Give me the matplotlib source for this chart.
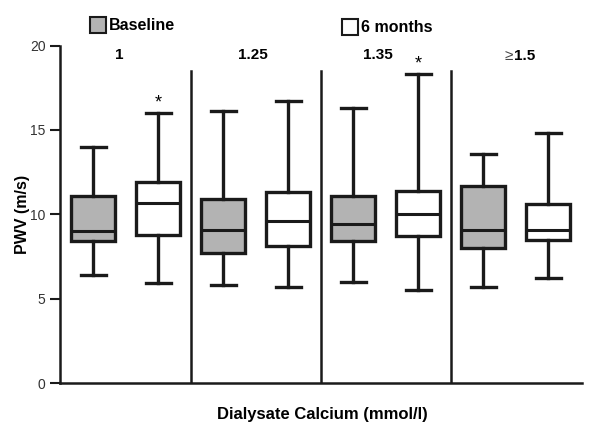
import matplotlib
matplotlib.use("Agg")
import matplotlib.pyplot as plt
from matplotlib.patches import Rectangle

plt.rcParams['font.family'] = ['Liberation Sans', 'DejaVu Sans']

# values (PWV, m/s)
groups = ["1", "1.25", "1.35", "1.5"]
group_prefix = ["", "", "", "\u2265"]
whislo = [6.4, 5.9, 5.8, 5.7, 6.0, 5.5, 5.7, 6.2]
q1 = [8.4, 8.8, 7.7, 8.1, 8.4, 8.7, 8.0, 8.5]
med = [9.0, 10.7, 9.1, 9.6, 9.4, 10.0, 9.1, 9.1]
q3 = [11.1, 11.9, 10.9, 11.3, 11.1, 11.4, 11.7, 10.6]
whishi = [14.0, 16.0, 16.1, 16.7, 16.3, 18.3, 13.6, 14.8]
signif = [False, True, False, False, False, True, False, False]

positions = list(range(1, 9))
fills = ['#b3b3b3', 'white'] * 4

fig = plt.figure(figsize=(6, 4.41), dpi=100)
ax = fig.add_axes([0.1, 0.1315, 0.87, 0.765])

stats = []
for i in range(8):
    stats.append({'whislo': whislo[i], 'q1': q1[i], 'med': med[i],
                  'q3': q3[i], 'whishi': whishi[i], 'fliers': []})

bp = ax.bxp(stats, positions=positions, widths=0.68, patch_artist=True,
            showfliers=False,
            boxprops=dict(linewidth=2.4, edgecolor='#1a1a1a'),
            medianprops=dict(linewidth=2.2, color='#1a1a1a'),
            whiskerprops=dict(linewidth=2.4, color='#1a1a1a'),
            capprops=dict(linewidth=2.4, color='#1a1a1a'))
for patch, c in zip(bp['boxes'], fills):
    patch.set_facecolor(c)
for cap in bp['caps']:
    x = cap.get_xdata()
    mid = (x[0] + x[1]) / 2
    cap.set_xdata([mid - 0.19, mid + 0.19])

# group separators
for sep in [2.5, 4.5, 6.5]:
    ax.plot([sep, sep], [0, 18.5], color='#1a1a1a', linewidth=1.8)

# asterisks
for p, s, hi in zip(positions, signif, whishi):
    if s:
        ax.text(p, hi + 0.1, "*", ha='center', va='bottom', fontsize=13)

# group labels
label_x = [1.4, 3.45, 5.38, 7.72]
for gx, g, pre in zip(label_x, groups, group_prefix):
    if pre:
        ax.text(gx - 0.25, 19.4, g, ha='left', va='center', fontsize=11,
                fontweight='bold')
        ax.text(gx - 0.26, 19.4, pre, ha='right', va='center', fontsize=11,
                color='#444444')
    else:
        ax.text(gx, 19.45, g, ha='center', va='center', fontsize=11,
                fontweight='bold')

ax.set_xlim(0.49, 8.52)
ax.set_ylim(0, 20)
ax.set_yticks([0, 5, 10, 15, 20])
ax.set_xticks([])
ax.spines['top'].set_visible(False)
ax.spines['right'].set_visible(False)
ax.spines['left'].set_linewidth(1.8)
ax.spines['bottom'].set_linewidth(1.8)
ax.spines['left'].set_color('#1a1a1a')
ax.spines['bottom'].set_color('#1a1a1a')
ax.tick_params(axis='y', length=7, width=1.5, labelsize=10,
               labelcolor='#333333', color='#1a1a1a')
ax.set_ylabel("PWV (m/s)", fontsize=11.5, fontweight='bold', labelpad=0)
fig.text(0.537, 1 - 415 / 441, "Dialysate Calcium (mmol/l)", ha='center',
         va='center', fontsize=12, fontweight='bold')

# legend drawn in figure pixels
for (x0, y0), c, lab in [((90, 17), '#b3b3b3', "Baseline"),
                         ((342, 19), 'white', "6 months")]:
    fig.patches.append(Rectangle((x0 / 600, 1 - (y0 + 16) / 441), 16 / 600,
                                 16 / 441, transform=fig.transFigure,
                                 facecolor=c, edgecolor='#1a1a1a',
                                 linewidth=1.5))
    fig.text((x0 + 19) / 600, 1 - (y0 + 8) / 441, lab, ha='left',
             va='center', fontsize=11.5, fontweight='bold')

fig.savefig("out.png", dpi=100)
